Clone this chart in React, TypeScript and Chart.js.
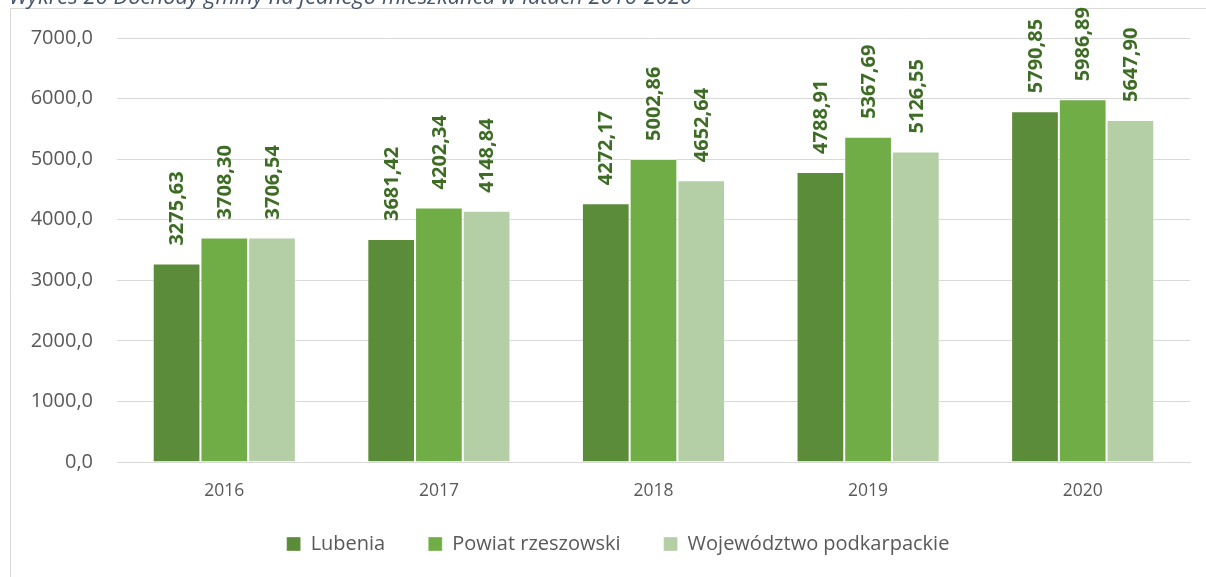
import React, { useEffect, useRef } from "react";
import { Chart, registerables } from "chart.js";

Chart.register(...registerables);

const title = "Wykres 26 Dochody gminy na jednego mieszkańca w latach 2016-2020";
const years = ["2016", "2017", "2018", "2019", "2020"];
const lubenia = [3275.63, 3681.42, 4272.17, 4788.91, 5790.85];
const powiat = [3708.3, 4202.34, 5002.86, 5367.69, 5986.89];
const wojewodztwo = [3706.54, 4148.84, 4652.64, 5126.55, 5647.9];
const seriesNames = ["Lubenia", "Powiat rzeszowski", "Województwo podkarpackie"];
const seriesColors = ["#5B8C39", "#70AD47", "#B4CFA6"];

const FONT = "'Open Sans', 'Liberation Sans', sans-serif";
const LEGEND_SHIFT_X = 23;
const LEGEND_SHIFT_Y = 9;
const PAD_RIGHT = 16;

const fmt2 = (v: number) => v.toFixed(2).replace(".", ",");
const fmt1 = (v: number) => v.toFixed(1).replace(".", ",");

const framePlugin = {
  id: "frame",
  beforeDraw(chart: any) {
    // Place the legend row like the reference
    const lg = chart.legend;
    if (lg) {
      lg.left = LEGEND_SHIFT_X;
      lg.right = chart.width - PAD_RIGHT + LEGEND_SHIFT_X;
      lg.top = lg.bottom - lg.height - LEGEND_SHIFT_Y;
    }
    const ctx = chart.ctx;
    ctx.save();
    ctx.fillStyle = "#ffffff";
    ctx.fillRect(0, 0, chart.width, chart.height);
    ctx.strokeStyle = "#d9d9d9";
    ctx.lineWidth = 1;
    ctx.beginPath();
    ctx.moveTo(10.5, chart.height + 5);
    ctx.lineTo(10.5, 8.5);
    ctx.lineTo(chart.width + 5, 8.5);
    ctx.stroke();
    // title (partially cut off at the top)
    ctx.fillStyle = "#44546A";
    ctx.font = `italic 22px ${FONT}`;
    ctx.textAlign = "left";
    ctx.textBaseline = "alphabetic";
    ctx.fillText(title, 9, 3.5);
    ctx.restore();
  },
};

const labelPlugin = {
  id: "barLabels",
  afterDatasetsDraw(chart: any) {
    const ctx = chart.ctx;
    ctx.save();
    ctx.fillStyle = "#3E6C25";
    ctx.font = `bold 20px ${FONT}`;
    ctx.textAlign = "left";
    ctx.textBaseline = "middle";
    chart.data.datasets.forEach((ds: any, di: number) => {
      const meta = chart.getDatasetMeta(di);
      meta.data.forEach((el: any, i: number) => {
        const v = ds.data[i] as number;
        ctx.save();
        ctx.translate(el.x + 1, el.y - 18);
        ctx.rotate(-Math.PI / 2);
        ctx.fillText(fmt2(v), 0, 0);
        ctx.restore();
      });
    });
    ctx.restore();
  },
};

export default function App() {
  const ref = useRef<HTMLCanvasElement | null>(null);
  useEffect(() => {
    if (!ref.current) return;
    const data = [lubenia, powiat, wojewodztwo];
    const chart = new Chart(ref.current, {
      type: "bar",
      data: {
        labels: years,
        datasets: data.map((d, i) => ({
          label: seriesNames[i],
          data: d,
          backgroundColor: seriesColors[i],
          borderColor: "rgba(255,255,255,0.35)",
          borderWidth: 1,
          categoryPercentage: 0.667,
          barPercentage: 1,
        })),
      },
      options: {
        responsive: false,
        animation: false,
        layout: { padding: { left: 0, right: PAD_RIGHT, top: 38, bottom: 4 } },
        plugins: {
          legend: {
            position: "bottom",
            labels: {
              boxWidth: 14,
              boxHeight: 14,
              padding: 43,
              color: "#595959",
              font: { family: FONT, size: 20 },
            },
          },
          tooltip: { enabled: false },
        },
        scales: {
          x: {
            grid: { display: false, drawTicks: false },
            border: { display: true, color: "#d9d9d9", width: 1 },
            ticks: { color: "#595959", font: { family: FONT, size: 17.5 }, padding: 19 },
            afterFit(scale: any) {
              scale.height = 38;
            },
          },
          y: {
            min: 0,
            max: 7000,
            grid: { color: "#d9d9d9", lineWidth: 1, drawTicks: false },
            border: { display: false },
            ticks: {
              stepSize: 1000,
              color: "#595959",
              font: { family: FONT, size: 20 },
              padding: 24,
              callback: (v: any) => fmt1(Number(v)),
            },
            afterFit(scale: any) {
              scale.width = 117;
            },
          },
        },
      },
      plugins: [framePlugin, labelPlugin],
    });
    return () => chart.destroy();
  }, []);
  return (
    <div style={{ position: "absolute", left: 0, top: 0, width: 1206, height: 577 }}>
      <canvas ref={ref} width={1206} height={577} style={{ display: "block" }} />
    </div>
  );
}
